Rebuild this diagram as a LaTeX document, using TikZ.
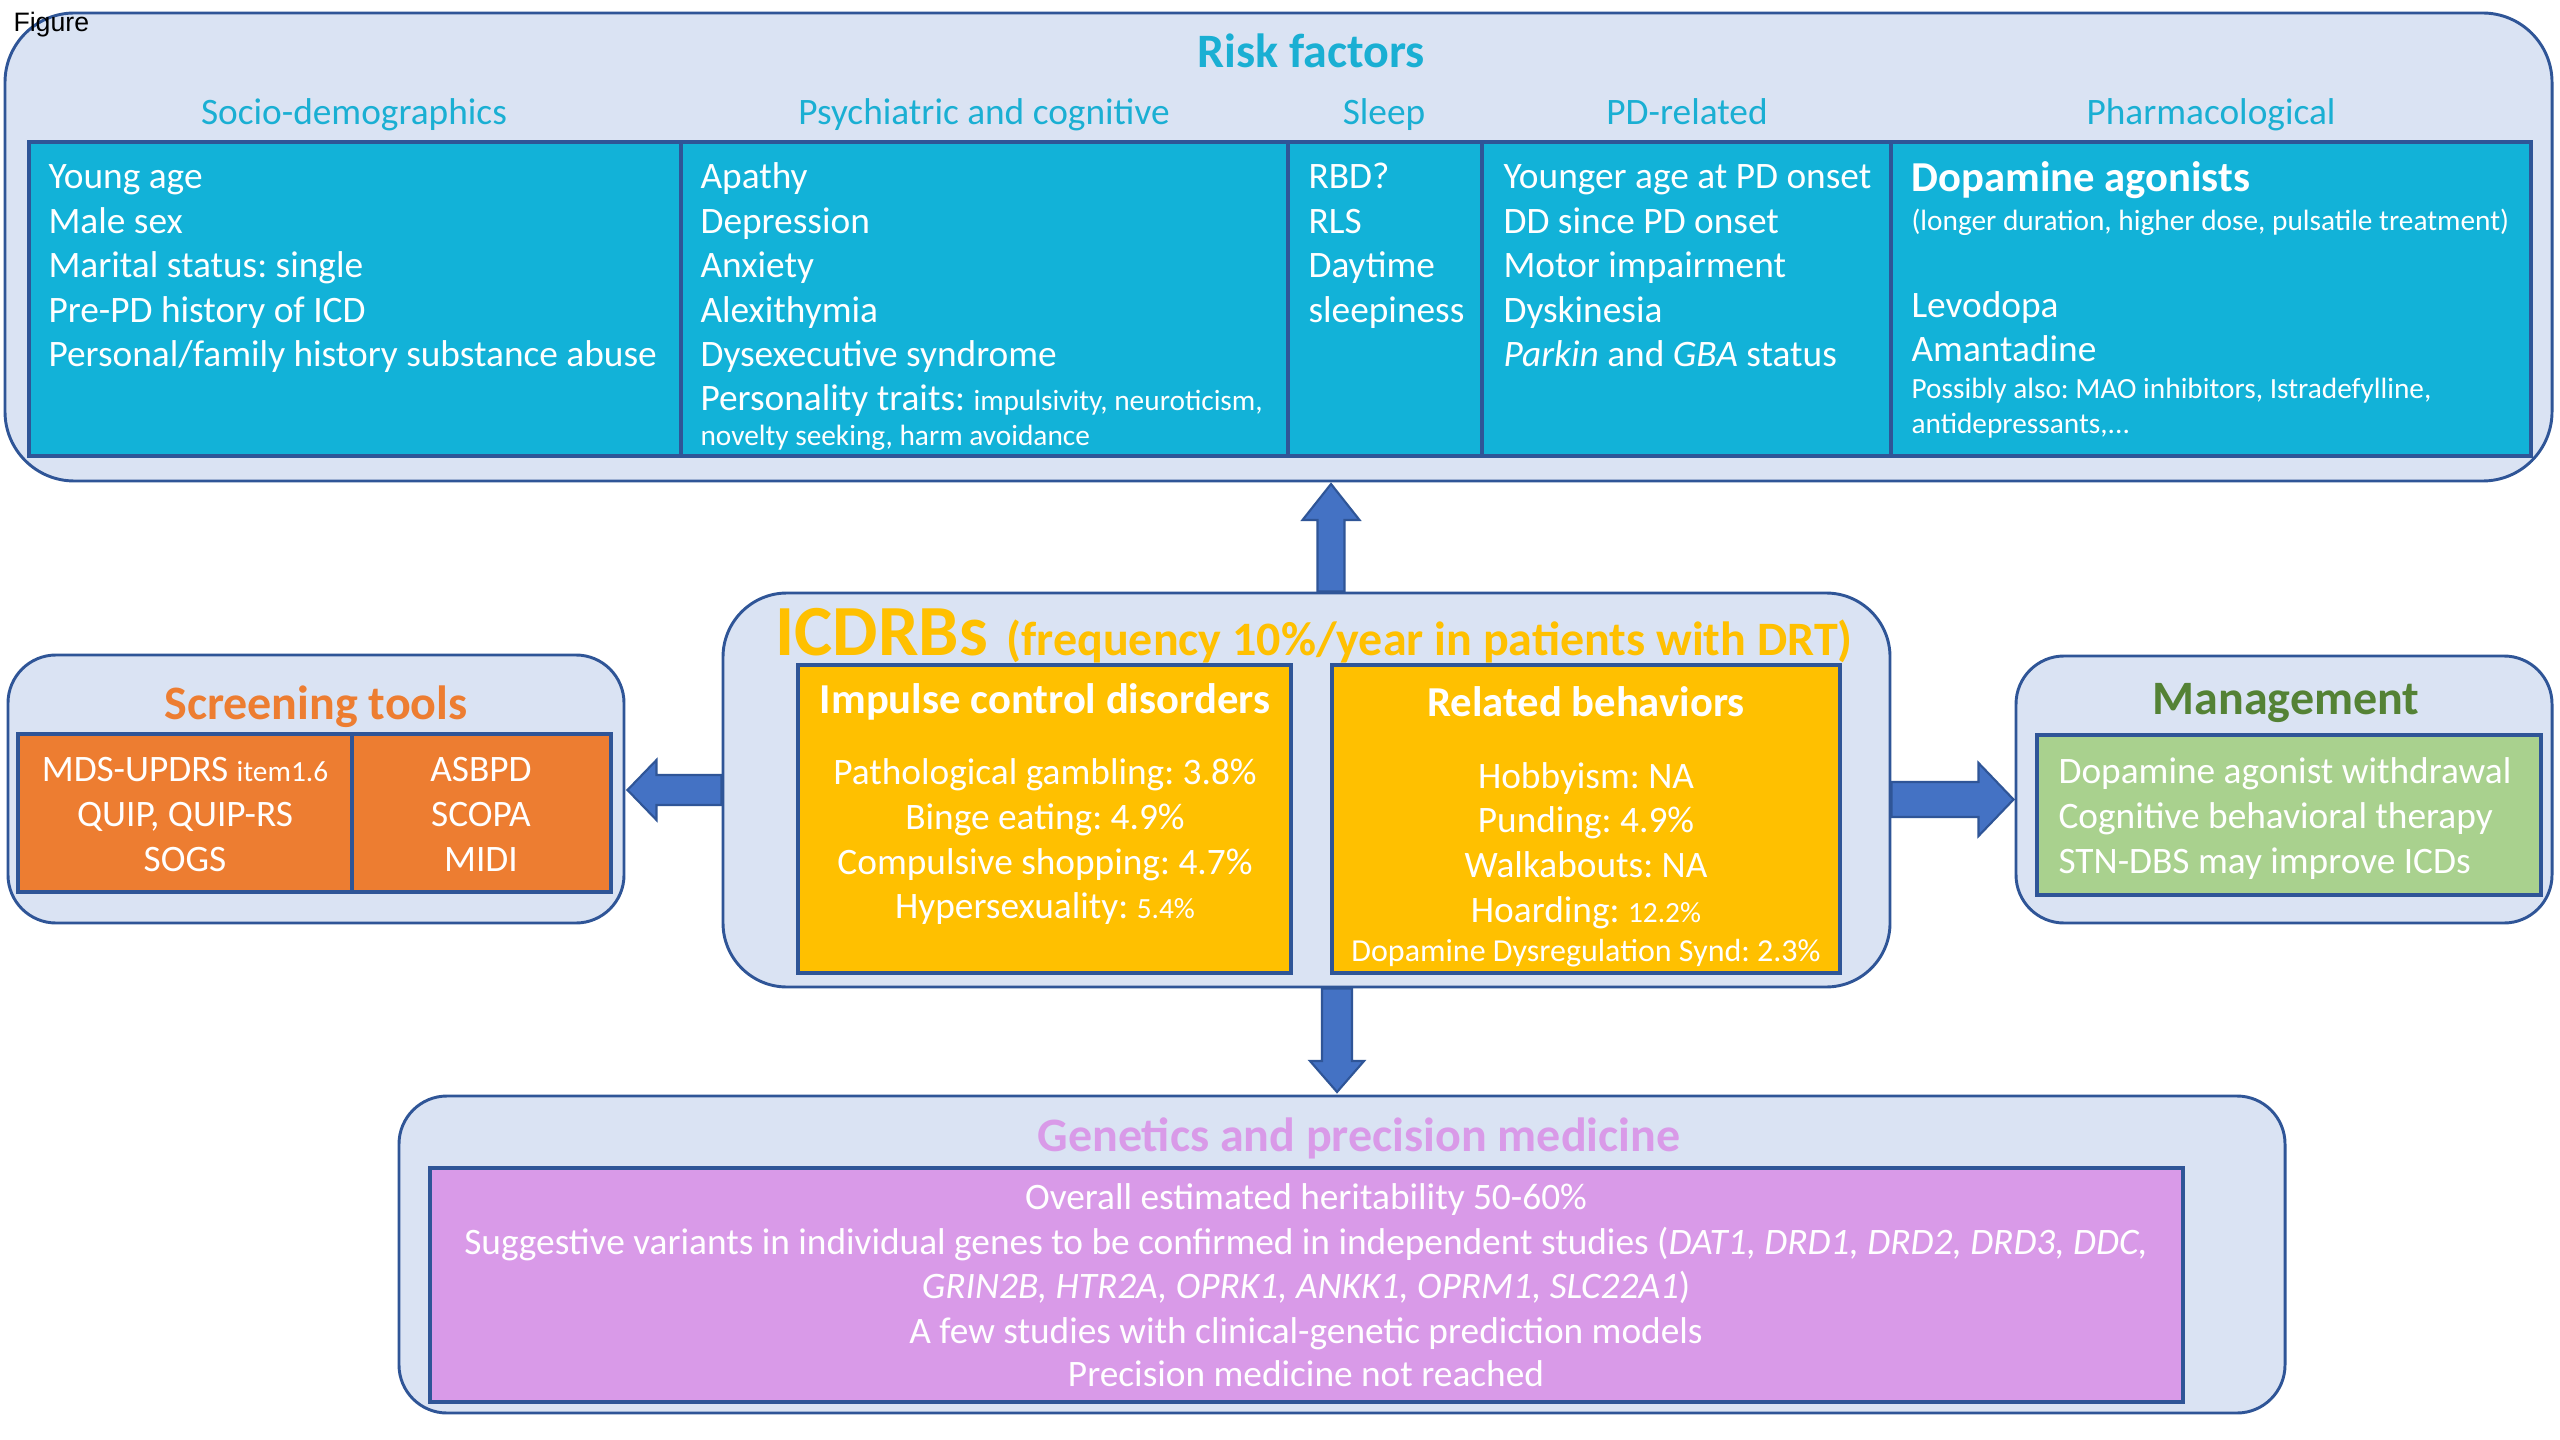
\documentclass[tikz,border=0pt]{standalone}
\usepackage{fontspec}
\setmainfont{Carlito}
\newfontfamily\arialfont{Liberation Sans}
\usetikzlibrary{fit,calc}
\definecolor{bgblue}{HTML}{DAE3F3}
\definecolor{edge}{HTML}{2F5597}
\definecolor{cyanbox}{HTML}{12B2D8}
\definecolor{cyantxt}{HTML}{1AAFD3}
\definecolor{orangebox}{HTML}{ED7D31}
\definecolor{goldbox}{HTML}{FFC000}
\definecolor{greenbox}{HTML}{A9D18E}
\definecolor{greentxt}{HTML}{548235}
\definecolor{violetbox}{HTML}{D99AE8}
\definecolor{arrowfill}{HTML}{4472C4}
\newcommand\fs[2]{\fontsize{#1}{#2}\selectfont}
\frenchspacing
\begin{document}
\frenchspacing
\begin{tikzpicture}[x=0.375pt,y=-0.375pt,
  panel/.style={draw=edge, fill=bgblue, line width=1.1pt, inner sep=0pt},
  tablebox/.style={draw=edge, line width=1.3pt, inner sep=0pt},
  divider/.style={draw=edge, line width=1.3pt},
  ttl/.style={font=\fs{18}{21}\bfseries, inner sep=0pt, anchor=base},
  sub/.style={font=\fs{14}{16.5}, text=cyantxt, inner sep=0pt, anchor=base},
  body/.style={font=\fs{14}{16.5}, text=white, inner sep=0pt, anchor=base west},
  bodyc/.style={body, anchor=base},
  smallbody/.style={body, font=\fs{11}{13}},
  blockarrow/.style={draw=edge, fill=arrowfill, line width=0.8pt, line join=miter}]
\fill[white] (0,0) rectangle (2560,1440);
\useasboundingbox (0,0) rectangle (2560,1440);

% ---------- panels ----------
\node[panel, rounded corners=26pt, fit={(5,13) (2552,481)}] (rf) {};
\node[panel, rounded corners=18pt, fit={(8,655) (624,923)}] (scr) {};
\node[panel, rounded corners=24pt, fit={(723,593) (1890,987)}] (icd) {};
\node[panel, rounded corners=18pt, fit={(2016,656) (2552,923)}] (mgmt) {};
\node[panel, rounded corners=18pt, fit={(399,1096) (2285,1413)}] (gen) {};

% ---------- inner boxes ----------
\node[tablebox, fill=cyanbox, fit={(29,142) (2531,456)}] (rft) {};
\foreach \xx in {681,1288,1482,1891} \draw[divider] (\xx,142) -- (\xx,456);
\node[tablebox, fill=orangebox, fit={(18,734) (611,892)}] (scrt) {};
\draw[divider] (352,734) -- (352,892);
\node[tablebox, fill=goldbox, fit={(798,665) (1291,973)}] (icdb) {};
\node[tablebox, fill=goldbox, fit={(1332,665) (1840,973)}] (relb) {};
\node[tablebox, fill=greenbox, fit={(2037,735) (2541,895)}] (mgt) {};
\node[tablebox, fill=violetbox, fit={(430,1168) (2183,1402)}] (gent) {};

% ---------- block arrows ----------
\coordinate (tipL) at ($(scr.east)+(2,1)$);
\draw[blockarrow] ($(icd.west |- tipL)+(0,-15)$) -- ($(tipL)+(29,-15)$) -- ($(tipL)+(29,-30)$) -- (tipL)
  -- ($(tipL)+(29,30)$) -- ($(tipL)+(29,15)$) -- ($(icd.west |- tipL)+(0,15)$) -- cycle;
\coordinate (tipR) at ($(mgmt.west)+(-1,10)$);
\draw[blockarrow] ($(icd.east |- tipR)+(0,-17.5)$) -- ($(tipR)+(-35,-17.5)$) -- ($(tipR)+(-35,-36.5)$) -- (tipR)
  -- ($(tipR)+(-35,36.5)$) -- ($(tipR)+(-35,17.5)$) -- ($(icd.east |- tipR)+(0,17.5)$) -- cycle;
\coordinate (tipU) at (1331,484);
\draw[blockarrow] ($(tipU |- icd.north)+(-13.5,0)$) -- ($(tipU)+(-13.5,36)$) -- ($(tipU)+(-28.5,36)$) -- (tipU)
  -- ($(tipU)+(28.5,36)$) -- ($(tipU)+(13.5,36)$) -- ($(tipU |- icd.north)+(13.5,0)$) -- cycle;
\coordinate (tipD) at (1337,1092);
\draw[blockarrow] ($(tipD |- icd.south)+(-15,0)$) -- ($(tipD)+(-15,-31)$) -- ($(tipD)+(-27,-31)$) -- (tipD)
  -- ($(tipD)+(27,-31)$) -- ($(tipD)+(15,-31)$) -- ($(tipD |- icd.south)+(15,0)$) -- cycle;

% ---------- Risk factors ----------
\node[ttl, text=cyantxt] (rftitle) at (1311,68) {Risk factors};
\node[sub] (h1) at (354,125) {Socio-demographics};
\node[sub] (h2) at (984,125) {Psychiatric and cognitive};
\node[sub] (h3) at (1384,125) {Sleep};
\node[sub] (h4) at (1687,125) {PD-related};
\node[sub] (h5) at (2211,125) {Pharmacological};

\node[body] (a1) at (48,189) {Young age};
\node[body] (a2) at (48,233.5) {Male sex};
\node[body] (a3) at (48,278) {Marital status: single};
\node[body] (a4) at (48,322.5) {Pre-PD history of ICD};
\node[body] (a5) at (48,367) {Personal/family history substance abuse};

\node[body] (b1) at (700,189) {Apathy};
\node[body] (b2) at (700,233.5) {Depression};
\node[body] (b3) at (700,278) {Anxiety};
\node[body] (b4) at (700,322.5) {Alexithymia};
\node[body] (b5) at (700,367) {Dysexecutive syndrome};
\node[body] (b6) at (700,411) {Personality traits: {\fs{11}{13}impulsivity, neuroticism,}};
\node[smallbody] (b7) at (700,446) {novelty seeking, harm avoidance};

\node[body] (c1) at (1308,189) {RBD?};
\node[body] (c2) at (1308,233.5) {RLS};
\node[body] (c3) at (1308,278) {Daytime};
\node[body] (c4) at (1308,322.5) {sleepiness};

\node[body] (d1) at (1503,189) {Younger age at PD onset};
\node[body] (d2) at (1503,233.5) {DD since PD onset};
\node[body] (d3) at (1503,278) {Motor impairment};
\node[body] (d4) at (1503,322.5) {Dyskinesia};
\node[body] (d5) at (1503,367) {\textit{Parkin} and \textit{GBA} status};

\node[body, font=\fs{16}{19}\bfseries] (e1) at (1911,192) {Dopamine agonists};
\node[smallbody] (e2) at (1911,231) {(longer duration, higher dose, pulsatile treatment)};
\node[body] (e3) at (1911,318) {Levodopa};
\node[body] (e4) at (1911,362) {Amantadine};
\node[smallbody] (e5) at (1911,399) {Possibly also: MAO inhibitors, Istradefylline,};
\node[smallbody] (e6) at (1911,434) {antidepressants,...};

% ---------- Screening tools ----------
\node[ttl, text=orangebox] (scrtitle) at (316,719) {Screening tools};
\node[bodyc] (s1) at (185,781) {MDS-UPDRS {\fs{11}{13}item1.6}};
\node[bodyc] (s2) at (185,826) {QUIP, QUIP-RS};
\node[bodyc] (s3) at (185,871) {SOGS};
\node[bodyc] (s4) at (481,781) {ASBPD};
\node[bodyc] (s5) at (481,826) {SCOPA};
\node[bodyc] (s6) at (481,871) {MIDI};

% ---------- ICDRBs ----------
\node[anchor=base west, inner sep=0pt, text=goldbox] (icdtitle) at (775,655)
  {{\fs{27}{30}\bfseries ICDRBs}\hspace{7pt}{\fs{18}{21}\bfseries (frequency 10\%/year in patients with DRT)}};
\node[bodyc, font=\fs{16}{19}\bfseries] (ictitle) at (1045,713) {Impulse control disorders};
\node[bodyc] (i1) at (1045,784) {Pathological gambling: 3.8\%};
\node[bodyc] (i2) at (1045,829) {Binge eating: 4.9\%};
\node[bodyc] (i3) at (1045,874) {Compulsive shopping: 4.7\%};
\node[bodyc] (i4) at (1045,918) {Hypersexuality: {\fs{11}{13}5.4\%}};

\node[bodyc, font=\fs{16}{19}\bfseries] (rbtitle) at (1586,716) {Related behaviors};
\node[bodyc] (r1) at (1586,788) {Hobbyism: NA};
\node[bodyc] (r2) at (1586,832) {Punding: 4.9\%};
\node[bodyc] (r3) at (1586,877) {Walkabouts: NA};
\node[bodyc] (r4) at (1586,922) {Hoarding: {\fs{11}{13}12.2\%}};
\node[bodyc, font=\fs{12}{14}] (r5) at (1586,961) {Dopamine Dysregulation Synd: 2.3\%};

% ---------- Management ----------
\node[ttl, text=greentxt] (mgtitle) at (2286,714) {Management};
\node[body] (m1) at (2058,783) {Dopamine agonist withdrawal};
\node[body] (m2) at (2058,828) {Cognitive behavioral therapy};
\node[body] (m3) at (2058,873) {STN-DBS may improve ICDs};

% ---------- Genetics ----------
\node[ttl, text=violetbox] (gtitle) at (1359,1151) {Genetics and precision medicine};
\node[bodyc] (g1) at (1306,1209) {Overall estimated heritability 50-60\%};
\node[bodyc] (g2) at (1306,1254) {Suggestive variants in individual genes to be confirmed in independent studies (\textit{DAT1, DRD1, DRD2, DRD3, DDC,}};
\node[bodyc] (g3) at (1306,1298) {\textit{GRIN2B, HTR2A, OPRK1, ANKK1, OPRM1, SLC22A1})};
\node[bodyc] (g4) at (1306,1343) {A few studies with clinical-genetic prediction models};
\node[bodyc] (g5) at (1306,1386) {Precision medicine not reached};

% ---------- label ----------
\node[anchor=base west, inner sep=0pt, font=\arialfont\fs{10}{12}] (figlbl) at (13,32) {Figure};
\end{tikzpicture}
\end{document}
